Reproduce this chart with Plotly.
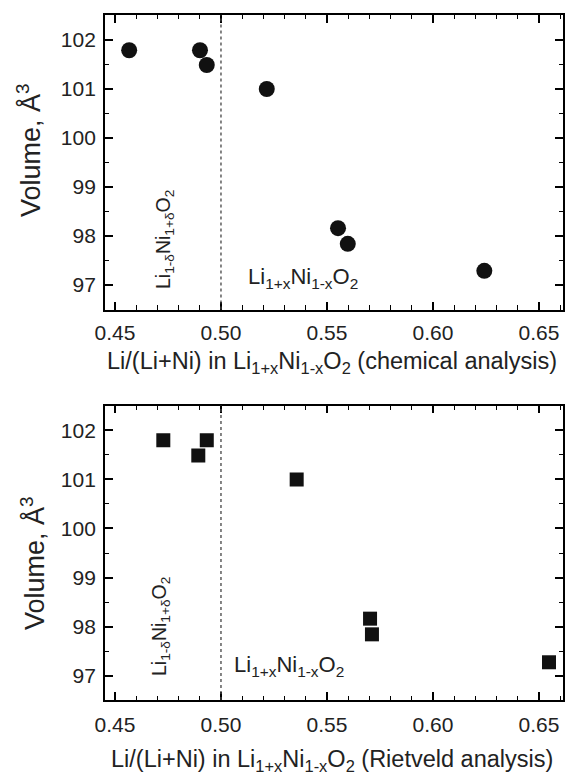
import plotly.graph_objects as go

# Data
chem_x = [0.4567, 0.4901, 0.4933, 0.5216, 0.5552, 0.5598, 0.6242]
chem_v = [101.79, 101.79, 101.49, 101.00, 98.16, 97.84, 97.29]
riet_x = [0.4728, 0.4893, 0.4933, 0.5357, 0.5703, 0.5712, 0.6547]
riet_v = [101.80, 101.49, 101.80, 101.00, 98.16, 97.84, 97.27]
boundary_x = 0.5
x_ticks = [0.45, 0.50, 0.55, 0.60, 0.65]
x_tick_labels = ["0.45", "0.50", "0.55", "0.60", "0.65"]
y_ticks = [97, 98, 99, 100, 101, 102]
y_title = "Volume, Å<sup>3</sup>"
x_title_chem = "Li/(Li+Ni) in Li<sub>1+x</sub>Ni<sub>1-x</sub>O<sub>2</sub> (chemical analysis)"
x_title_riet = "Li/(Li+Ni) in Li<sub>1+x</sub>Ni<sub>1-x</sub>O<sub>2</sub> (Rietveld analysis)"
delta_txt = "Li<sub>1-δ</sub>Ni<sub>1+δ</sub>O<sub>2</sub>"
x_txt = "Li<sub>1+x</sub>Ni<sub>1-x</sub>O<sub>2</sub>"

W, H = 572, 774
FONT = "Liberation Sans, Arial, sans-serif"
TXT = "#222222"

fig = go.Figure()
fig.add_trace(go.Scatter(x=chem_x, y=chem_v, mode="markers", xaxis="x", yaxis="y",
                         marker=dict(symbol="circle", size=16, color="#111111",
                                     line=dict(width=0)), showlegend=False))
fig.add_trace(go.Scatter(x=riet_x, y=riet_v, mode="markers", xaxis="x2", yaxis="y2",
                         marker=dict(symbol="square", size=14, color="#111111",
                                     line=dict(width=0)), showlegend=False))

xdom = [105 / W, 563 / W]
top_dom = [1 - 309.5 / H, 1 - 15 / H]
bot_dom = [1 - 700 / H, 1 - 405.5 / H]

def xaxis(anchor, standoff):
    return dict(domain=xdom, anchor=anchor, range=[0.4453, 0.6613], automargin=False,
                tickvals=x_ticks, ticktext=x_tick_labels,
                ticks="inside", ticklen=8, tickwidth=1.5, tickcolor="black",
                minor=dict(dtick=0.01, ticks="inside", ticklen=4.5, tickwidth=1.2, tickcolor="black"),
                showline=True, linecolor="black", linewidth=1.8, mirror="allticks",
                showgrid=False, zeroline=False, ticklabelstandoff=standoff,
                tickfont=dict(family=FONT, size=21, color=TXT))

def yaxis(dom, anchor):
    return dict(domain=dom, anchor=anchor, range=[96.5, 102.51], automargin=False,
                tickvals=y_ticks,
                ticks="inside", ticklen=8, tickwidth=1.5, tickcolor="black",
                minor=dict(dtick=0.5, ticks="inside", ticklen=4.5, tickwidth=1.2, tickcolor="black"),
                showline=True, linecolor="black", linewidth=1.8, mirror="allticks",
                showgrid=False, zeroline=False, ticklabelstandoff=3,
                tickfont=dict(family=FONT, size=21, color=TXT))

fig.update_layout(
    width=W, height=H, margin=dict(l=0, r=0, t=0, b=0, autoexpand=False),
    paper_bgcolor="white", plot_bgcolor="white",
    xaxis=xaxis("y", 3), yaxis=yaxis(top_dom, "x"),
    xaxis2=xaxis("y2", 5), yaxis2=yaxis(bot_dom, "x2"),
)

for xr, yr in [("x", "y domain"), ("x2", "y2 domain")]:
    fig.add_shape(type="line", xref=xr, yref=yr, x0=boundary_x, x1=boundary_x, y0=0, y1=1,
                  line=dict(color="#444", width=1.3, dash="dot"))

def ann(text, cx, cy, size, angle=0):
    fig.add_annotation(text=text, xref="paper", yref="paper", x=cx / W, y=1 - cy / H,
                       xanchor="center", yanchor="middle", textangle=angle,
                       showarrow=False, font=dict(family=FONT, size=size, color=TXT))

# axis titles
ann(y_title, 29, 150, 27, -90)
ann(y_title, 33, 563, 27, -90)
ann(x_title_chem, 332, 362, 23.5)
ann(x_title_riet, 332, 760, 23.5)
# region labels
ann(delta_txt, 165, 239, 19.5, -90)
ann(x_txt, 303, 278, 22)
ann(delta_txt, 160, 627, 19.5, -90)
ann(x_txt, 289, 666, 22)

fig.write_html("out.html")
